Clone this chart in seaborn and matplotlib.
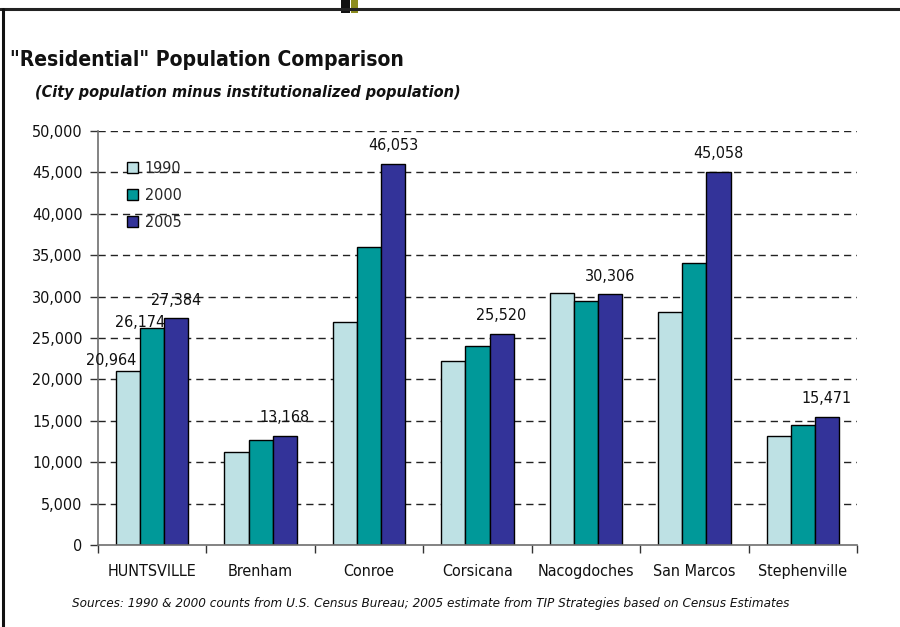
import matplotlib
matplotlib.use("Agg")
import matplotlib.pyplot as plt
from matplotlib import font_manager
from matplotlib.lines import Line2D
from matplotlib.patches import Rectangle
from matplotlib.ticker import FuncFormatter, MultipleLocator
import numpy as np
import pandas as pd
import seaborn as sns

# ---- data -------------------------------------------------------------
cities = ["HUNTSVILLE", "Brenham", "Conroe", "Corsicana",
          "Nacogdoches", "San Marcos", "Stephenville"]
years = ["1990", "2000", "2005"]
pop_1990 = [20964, 11200, 26900, 22200, 30400, 28100, 13200]
pop_2000 = [26174, 12700, 36000, 24000, 29500, 34000, 14500]
pop_2005 = [27384, 13168, 46053, 25520, 30306, 45058, 15471]
y_ticks = [0, 5000, 10000, 15000, 20000, 25000, 30000, 35000, 40000, 45000, 50000]

colors = ["#BEE1E4", "#009999", "#333399"]

df = pd.DataFrame({
    "city": cities * 3,
    "year": [y for y in years for _ in cities],
    "pop": pop_1990 + pop_2000 + pop_2005,
})

# ---- style ------------------------------------------------------------
sns.set_theme(style="white")

# prefer a narrow sans face when one is available
narrow = None
for f in font_manager.fontManager.ttflist:
    if f.name == "Liberation Sans Narrow":
        narrow = f.name
        break
FONT = [narrow] if narrow else []
FONT += ["DejaVu Sans"]
plt.rcParams["font.family"] = FONT
plt.rcParams["font.stretch"] = "condensed"

fig = plt.figure(figsize=(9.0, 6.27), dpi=100)
ax = fig.add_axes([98 / 900, 1 - 545 / 627, (857 - 98) / 900, (545 - 131) / 627])

sns.barplot(data=df, x="city", y="pop", hue="year", order=cities,
            hue_order=years, palette=colors, width=0.667, gap=0,
            edgecolor="black", linewidth=1.0, saturation=1, ax=ax,
            legend=True)

ax.set_xlim(-0.5, len(cities) - 0.5)
ax.set_ylim(0, 50000)
ax.set_xlabel("")
ax.set_ylabel("")

# dashed horizontal gridlines
for v in y_ticks[1:]:
    ax.axhline(v, color="#222222", lw=1.0, dashes=(5.2, 3.6), zorder=0)

# axes spines and ticks
for s in ["top", "right"]:
    ax.spines[s].set_visible(False)
for s in ["left", "bottom"]:
    ax.spines[s].set_color("#6E6E6E")
    ax.spines[s].set_linewidth(1.2)

LS = 11.5
ax.yaxis.set_major_locator(MultipleLocator(5000))
ax.yaxis.set_major_formatter(FuncFormatter(lambda v, p: f"{int(v):,}"))
ax.tick_params(axis="y", which="major", direction="out", length=6,
               width=1, color="#333333", labelsize=LS, pad=5,
               left=True, labelcolor="#111111")

# category boundaries carry the x tick marks, labels sit at centres
ax.set_xticks(np.arange(-0.5, len(cities)), minor=False)
ax.set_xticklabels([""] * (len(cities) + 1))
ax.set_xticks(np.arange(len(cities)), minor=True)
ax.set_xticklabels(cities, minor=True)
ax.tick_params(axis="x", which="major", direction="out", length=6,
               width=1, color="#333333", bottom=True)
ax.tick_params(axis="x", which="minor", length=0, labelsize=LS,
               pad=14, labelcolor="#111111")

# value labels: (series index, city index, dx px, dy px)
series = [pop_1990, pop_2000, pop_2005]
label_spec = [(0, 0, -17, 11), (1, 0, -12, 6), (2, 0, 0, 18),
              (2, 1, 0, 18), (2, 2, 0, 18), (2, 3, 0, 18),
              (2, 4, 0, 18), (2, 5, 0, 18), (2, 6, 0, 18)]
for si, ci, dx, dy in label_spec:
    bar = ax.containers[si][ci]
    xc = bar.get_x() + bar.get_width() / 2
    val = series[si][ci]
    ax.annotate(f"{val:,}", (xc, val), xytext=(dx, dy),
                textcoords="offset pixels", ha="center", va="center",
                fontsize=LS, color="#111111")

# legend
handles = [Rectangle((0, 0), 1, 1, facecolor=c, edgecolor="black", lw=1)
           for c in colors]
ax.legend(handles, years, loc="upper left", bbox_to_anchor=(0.03, 0.943),
          frameon=False, fontsize=LS, handlelength=0.7, handleheight=0.7,
          handletextpad=0.4, labelspacing=0.75, borderaxespad=0)

# titles and source note
fig.text(10 / 900, 1 - 60 / 627, "\"Residential\" Population Comparison",
         fontsize=15.1, fontweight="bold", ha="left", va="center",
         color="#111111")
fig.text(35 / 900, 1 - 93 / 627,
         "(City population minus institutionalized population)",
         fontsize=11.6, fontweight="bold", fontstyle="italic", ha="left",
         va="center", color="#111111")
fig.text(72 / 900, 1 - 604 / 627,
         "Sources: 1990 & 2000 counts from U.S. Census Bureau; 2005 estimate "
         "from TIP Strategies based on Census Estimates",
         fontsize=9.65, fontstyle="italic", ha="left", va="center",
         color="#111111")

# page frame and header marker
fig.add_artist(Line2D([0, 1], [1 - 9 / 627, 1 - 9 / 627], color="#222222",
                      lw=2.2, transform=fig.transFigure))
fig.add_artist(Line2D([3 / 900, 3 / 900], [0, 1 - 9 / 627], color="#111111",
                      lw=2.2, transform=fig.transFigure))
fig.add_artist(Rectangle((341 / 900, 1 - 13 / 627), 9 / 900, 13 / 627,
                         facecolor="#111111", edgecolor="none",
                         transform=fig.transFigure))
fig.add_artist(Rectangle((351 / 900, 1 - 13 / 627), 7 / 900, 13 / 627,
                         facecolor="#8C8C1E", edgecolor="none",
                         transform=fig.transFigure))

fig.savefig("out.png", dpi=100)
